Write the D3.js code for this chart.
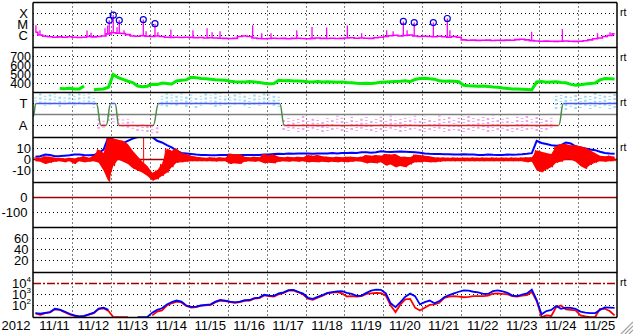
<!DOCTYPE html>
<html>
<head>
<meta charset="utf-8">
<script src="https://d3js.org/d3.v7.min.js"></script>
<style>
  body { margin: 0; background: #fff; }
</style>
</head>
<body>
<div id="chart"></div>
<script>
// all series are 3-hour bins starting 2012-11-11 00:00, 120 bins = 15 days
var dayLabels = ["11/11", "11/12", "11/13", "11/14", "11/15", "11/16", "11/17", "11/18",
                 "11/19", "11/20", "11/21", "11/22", "11/23", "11/24", "11/25"];

// GOES x-ray background flux (W/m2)
var xrayBase = [
  2.0e-6, 1.1e-6, 8.6e-7, 7.7e-7, 7.0e-7, 7.5e-7, 7.0e-7, 7.7e-7, 7.0e-7, 6.5e-7,
  7.0e-7, 8.0e-7, 7.5e-7, 8.0e-7, 9.0e-7, 1.4e-6, 1.8e-6, 1.6e-6, 1.5e-6, 1.2e-6,
  9.0e-7, 8.6e-7, 9.5e-7, 8.6e-7, 8.0e-7, 9.0e-7, 8.0e-7, 7.0e-7, 6.8e-7, 7.0e-7,
  6.5e-7, 7.0e-7, 6.8e-7, 6.3e-7, 6.5e-7, 6.0e-7, 6.3e-7, 6.0e-7, 5.7e-7, 5.5e-7,
  5.3e-7, 5.5e-7, 8.0e-7, 9.0e-7, 8.0e-7, 6.0e-7, 5.3e-7, 5.1e-7, 5.3e-7, 5.7e-7,
  5.3e-7, 5.5e-7, 5.1e-7, 5.5e-7, 5.7e-7, 5.3e-7, 5.1e-7, 5.5e-7, 6.0e-7, 5.5e-7,
  5.3e-7, 5.7e-7, 5.3e-7, 5.5e-7, 6.0e-7, 6.3e-7, 5.7e-7, 6.0e-7, 5.7e-7, 5.5e-7,
  6.3e-7, 7.0e-7, 8.0e-7, 9.5e-7, 1.05e-6, 9.0e-7, 1.0e-6, 1.1e-6, 9.0e-7, 8.0e-7,
  8.6e-7, 8.0e-7, 7.7e-7, 8.6e-7, 7.7e-7, 7.0e-7, 8.0e-7, 7.0e-7, 4.0e-7, 3.7e-7,
  3.8e-7, 3.6e-7, 3.7e-7, 3.8e-7, 3.5e-7, 3.7e-7, 3.6e-7, 3.8e-7, 3.7e-7, 4.2e-7,
  4.6e-7, 4.0e-7, 3.4e-7, 3.2e-7, 3.0e-7, 3.1e-7, 3.0e-7, 2.9e-7, 3.0e-7, 3.2e-7,
  3.0e-7, 2.9e-7, 3.0e-7, 3.3e-7, 4.0e-7, 5.0e-7, 6.0e-7, 8.0e-7, 1.0e-6, 1.4e-6
];

// flare peaks [hour, flux]
var flares = [
  [1.8, 8.5e-6], [4.3, 3.0e-6], [33.3, 2.9e-6], [35.8, 1.8e-6], [44.4, 4.6e-6],
  [46.0, 8.0e-6], [47.0, 2.4e-5], [49.5, 7.0e-5], [51.8, 5.6e-6], [53.2, 2.4e-5],
  [56.1, 3.0e-6], [68.0, 2.8e-5], [69.7, 2.4e-6], [75.2, 1.2e-5], [77.0, 2.0e-6],
  [85.0, 3.6e-6], [98.6, 3.0e-6], [107.3, 4.6e-6], [110.4, 2.0e-6], [115.3, 2.4e-6],
  [135.4, 8.5e-6], [141.0, 1.6e-6], [146.7, 1.6e-6], [162.6, 3.0e-6], [172.0, 6.0e-6],
  [181.0, 5.4e-6], [193.8, 8.0e-6], [202.6, 1.6e-6], [218.0, 3.0e-6], [222.0, 2.4e-6],
  [228.3, 1.9e-5], [230.6, 3.0e-6], [235.0, 1.5e-5], [246.8, 1.5e-5], [255.4, 3.5e-5],
  [257.0, 3.0e-6], [307.4, 2.2e-6], [326.3, 4.0e-6], [348.0, 1.6e-6], [355.7, 2.0e-6]
];

// solar wind speed (km/s)
var windSpeed = [
  null, null, null, null, null, 345, 342, 348, 340, 338,
  372, null, 330, 335, 340, 358, 500, 465, 445, 425,
  410, 372, 365, 370, 392, 388, 405, 400, 395, 428,
  435, 440, 470, 465, 455, 452, 448, 442, 440, 435,
  425, 420, 418, 416, 422, 418, 410, 402, 398, 400,
  435, 430, 432, 428, 428, 425, 420, 418, 422, 418,
  420, 418, 415, 418, 412, 408, 402, 400, 404, 400,
  405, 415, 418, 420, 422, 425, 430, 420, 445, 455,
  458, 452, 448, 430, 425, 428, 424, 420, 380, 375,
  372, 370, 372, 368, 360, 358, 350, 345, 340, 338,
  335, 332, 330, 418, 422, 415, 418, 420, 412, 408,
  390, 382, 385, 395, 400, 405, 440, 455, 452, 450
];

// IMF sector: [hour, polarity] (+1 toward, -1 away)
var sectorPoints = [
  [0, -0.2], [1.9, 1], [39, 1], [42, -1], [45, -1], [48, 1], [50.5, 1], [53, -1],
  [74, -1], [77.5, 1], [152, 1], [155, -1], [324, -1], [327, 1], [360, 1]
];

// IMF angle scatter, low / high per bin (sector units)
var phiLo = [
  0.9, 1.0, 0.8, 0.9, 1.0, 0.7, 0.9, 1.0, 0.8, 1.0,
  0.9, 1.1, 0.6, -1.3, -1.2, -0.6, -0.7, -0.9, -1.1, -1.2,
  -1.3, -1.5, -1.5, -1.6, -1.7, -1.7, 0.8, 0.7, 0.9, 0.8,
  1.0, 0.7, 0.9, 0.6, 0.8, 1.0, 0.9, 0.7, 0.8, 0.9,
  0.7, 0.9, 1.0, 0.8, 0.6, 0.9, 0.8, 1.0, 0.9, 0.8,
  0.7, -1.4, -1.5, -1.3, -1.6, -1.4, -1.5, -1.3, -1.4, -1.6,
  -1.5, -1.4, -1.3, -1.5, -1.6, -1.4, -1.5, -1.3, -1.4, -1.5,
  -1.6, -1.4, -1.5, -1.3, -1.4, -1.6, -1.5, -1.4, -1.3, -1.5,
  -1.6, -1.4, -1.5, -1.3, -1.6, -1.5, -1.4, -1.5, -1.6, -1.4,
  -1.5, -1.3, -1.4, -1.6, -1.5, -1.4, -1.3, -1.5, -1.6, -1.4,
  -1.5, -1.4, -1.3, -1.5, -1.6, -1.4, -1.2, 0.5, 0.6, 0.4,
  0.7, 0.5, 0.6, 0.8, 0.5, 0.7, 0.6, 0.8, 0.5, 0.6
];
var phiHi = [
  1.7, 1.9, 1.8, 2.0, 1.9, 1.8, 1.7, 1.9, 1.9, 2.0,
  1.8, 1.9, 1.7, -0.2, -0.5, 0.1, 0.0, -0.1, -0.3, -0.4,
  -0.6, -0.8, -0.9, -1.0, -1.1, -1.0, 1.8, 1.9, 2.0, 1.8,
  1.9, 1.8, 2.0, 1.7, 1.9, 2.0, 1.8, 1.9, 2.0, 1.7,
  1.8, 1.9, 2.0, 1.8, 1.7, 1.9, 1.8, 2.0, 1.9, 1.8,
  1.7, -0.4, -0.2, -0.5, -0.3, -0.1, -0.4, -0.2, -0.3, -0.5,
  -0.2, -0.4, -0.1, -0.3, -0.5, -0.2, -0.4, -0.3, -0.1, -0.4,
  -0.3, -0.2, -0.5, -0.1, -0.3, -0.4, -0.2, -0.3, -0.1, -0.4,
  -0.2, -0.3, -0.4, -0.1, -0.3, -0.2, -0.4, -0.3, -0.2, -0.1,
  -0.3, -0.4, -0.2, -0.3, -0.1, -0.4, -0.2, -0.3, -0.5, -0.2,
  -0.3, -0.1, -0.4, -0.2, -0.3, -0.5, -0.3, 1.7, 1.8, 1.9,
  1.8, 1.9, 1.7, 1.9, 1.8, 2.0, 1.9, 1.8, 1.9, 2.0
];

// IMF magnitude Bt (nT)
var bt = [
  2.5, 3.0, 4.5, 4.0, 3.0, 3.2, 3.5, 3.8, 4.5, 4.5,
  4.0, 3.8, 4.0, 6.0, 9.0, 20.5, 18, 11, 15, 17,
  19, 20.5, 20.5, 20.5, 20.5, 17, 15.5, 13, 11, 8,
  6, 5.5, 5, 4.5, 4.2, 4, 3.8, 3.8, 4, 4.2,
  4.2, 3.8, 4, 4, 4.2, 4, 4, 4.5, 4.5, 5,
  5.2, 5, 5.5, 5.3, 5.5, 5.5, 5.5, 5.2, 5.5, 5.5,
  5.5, 5.8, 5.5, 6, 6, 6.2, 6, 6.5, 6.5, 6.2,
  6.5, 7.5, 7, 6.8, 7, 7.2, 7, 6.8, 6.5, 6.2,
  5.5, 5.2, 5, 5, 4.8, 4.8, 4.5, 4.5, 4.8, 4.5,
  4.5, 4.2, 4.2, 4.5, 4.3, 4.2, 4.2, 4.5, 4.3, 4.5,
  4.8, 5.2, 5.8, 17, 15, 14, 13, 12.5, 13, 15.5,
  14.5, 12, 11, 10, 9, 8.5, 7, 6, 5.5, 5.2
];

// IMF Bz min / max per bin (nT)
var bzLo = [
  -1.5, -2, -4, -3, -2, -1.5, -2.5, -1.5, -4, -1.5,
  -2.5, -2, -1.5, -3, -10, -20, -6, 0, -2, -4,
  -8, -10, -12, -15, -19, -18, -15, -12, -7, -3,
  -2.5, -2, -1.5, -1.5, -1.5, -1.6, -1.5, -1.8, -1.5, -1.6,
  -4, -3.5, -4, -2, -1.6, -2, -1.6, -3.5, -3, -3.5,
  -2, -1.6, -2, -1.5, -2, -1.6, -2.5, -2.2, -2.5, -2,
  -2.5, -2, -2.5, -2, -2.5, -2, -1.6, -2, -3.5, -3,
  -3.5, -2.5, -5.5, -4.5, -7, -6, -7, -4.5, -2.5, -2.5,
  -2, -2.5, -2.5, -2, -1.6, -1.5, -1.6, -1.5, -1.6, -1.5,
  -1.6, -1.5, -1.6, -1.5, -1.6, -1.5, -1.6, -1.5, -1.6, -1.5,
  -1.6, -2.5, -2, -10, -11.5, -9, -7, -3, -2, 0,
  0, -2, -6, -8.5, -5, -3, -1.5, -2, -1.5, -1.5
];
var bzHi = [
  2, 1.5, 3, 2.5, 1.5, 1.5, 1, 1.5, 0.8, 2,
  3, 1.5, 3.5, 9, 6, 20, 19, 18, 17, 14,
  8, 3, -2, -6, -12, -10, -4, 10, 8, 10,
  6, 5, 3.5, 2.5, 2, 1.5, 2, 1.6, 2, 1.5,
  5.5, 4.5, 5, 2.5, 2, 2.5, 2, 5, 4, 4.5,
  2.5, 2, 2.5, 2, 2.5, 2, 4, 3.5, 4, 3,
  2.5, 2, 2.5, 2, 2.5, 2.5, 2, 2.5, 4, 3.5,
  4, 3.5, 5, 4.5, 5, 2.5, 2.5, 2, 4.5, 4,
  3.5, 3, 2, 1.8, 1.8, 1.6, 1.8, 1.6, 1.8, 1.6,
  1.8, 1.6, 1.8, 1.6, 1.8, 1.6, 1.8, 1.6, 1.8, 1.6,
  1.8, 2, 2, 8.5, 7, 6, 5, 12, 14, 14,
  13, 13, 12, 11, 8.5, 6, 3.5, 3, 3.5, 2.5
];
// single sharp Bz excursion [hour, low, high]
var bzSpikes = [[68.2, -8, 20]];

// electron flux, log10, two channels
var eBlue = [
  1.3, 1.25, 1.33, 1.4, 1.7, 1.62, 1.45, 1.25, 1.1, 1.0,
  1.05, 1.2, 1.35, 1.72, 1.8, 1.6, null, null, null, null,
  null, 0.95, 0.95, 0.97, 1.35, 1.6, 1.75, 2.1, 2.3, 2.45,
  2.35, 2.0, 1.88, 1.9, 2.0, 2.05, 2.1, 2.35, 2.5, 2.45,
  2.35, 2.28, 2.35, 2.48, 2.5, 2.68, 2.72, 2.98, 2.9, 2.88,
  3.1, 3.2, 3.4, 3.42, 3.25, 3.08, 2.7, 2.6, 2.78, 2.95,
  3.15, 3.22, 3.28, 3.3, 3.15, 3.05, 2.88, 2.9, 3.15, 3.35,
  3.45, 3.42, 3.1, 2.2, 1.85, 2.3, 2.8, 3.08, 2.85, 2.1,
  2.3, 2.45, 2.2, 2.4, 2.75, 2.95, 3.1, 3.25, 3.38, 3.35,
  3.25, 3.2, 3.05, 3.05, 3.3, 3.38, 3.28, 3.15, 2.9, 2.85,
  3.0, 3.1, 3.45, 2.5, 1.2, 1.5, 1.6, 1.95, 1.7, 1.8,
  1.78, 1.7, 1.45, 1.35, 1.3, 1.3, 1.6, 1.82, 1.8, 1.78
];
var eRed = [
  1.28, 1.15, 1.3, 1.38, 1.65, 1.6, 1.4, 1.2, 1.05, 0.98,
  1.02, 1.18, 1.3, 1.68, 1.75, 1.5, 0.95, 0.95, 0.95, 0.95,
  null, null, null, null, 1.1, 1.45, 1.55, 2.0, 2.2, 2.35,
  2.28, 1.95, 1.82, 1.85, 1.98, 2.02, 2.05, 2.3, 2.45, 2.4,
  2.3, 2.25, 2.3, 2.42, 2.45, 2.62, 2.68, 2.92, 2.85, 2.82,
  3.02, 3.15, 3.35, 3.38, 3.2, 3.0, 2.62, 2.52, 2.72, 2.9,
  3.1, 3.18, 3.22, 3.1, 2.82, 2.85, 2.82, 2.85, 3.05, 3.1,
  3.15, 3.12, 2.9, 2.0, 1.4, 2.1, 2.55, 2.6, 1.8, 1.55,
  1.8, 2.05, 2.1, 2.25, 2.7, 2.8, 2.85, 2.8, 2.75, 2.78,
  2.85, 2.85, 2.85, 2.9, 3.08, 3.1, 3.05, 3.02, 2.85, 2.8,
  2.9, 2.95, 3.25, 2.4, 0.95, 1.1, 1.05, 1.85, 2.0, 1.65,
  1.6, 1.55, 1.1, 1.0, 0.95, 0.95, 1.7, 1.7, 1.5, 1.1
];

// tick labels
var xrayTicks = [1e-4, 1e-5, 1e-6], xrayLabels = ["X", "M", "C"];
var speedTicks = [400, 500, 600, 700];
var sectorTicks = [1, -1], sectorLabels = ["T", "A"];
var bTicks = [10, 0, -10];
var dstTicks = [0, -100];
var kTicks = [20, 40, 60];
var eTicks = [1e2, 1e3, 1e4], eExponents = ["2", "3", "4"];

var width = 633, height = 334;
var left = 33, right = 617, panelH = 45;
var font = "'Liberation Sans', Arial, sans-serif";

function panelTop(i) { return 2.5 + panelH * i; }
function binHour(i) { return i * 3 + 1.5; }

var svg = d3.select("#chart")
  .append("svg")
    .attr("width", width)
    .attr("height", height)
    .style("display", "block");

// time axis in hours from 11/11 00:00
var x = d3.scaleLinear().domain([0, 360]).range([left, right]);

// y scales, one per panel
var yXray = d3.scaleLog().domain([Math.pow(10, -3 - 45 / 11), 1e-3]).range([panelTop(1), panelTop(0)]);
var ySpeed = d3.scaleLinear().domain([300, 800]).range([panelTop(2), panelTop(1)]);
var ySector = d3.scaleLinear().domain([2 - 45 / 11, 2]).range([panelTop(3), panelTop(2)]);
var yB = d3.scaleLinear().domain([20 - 45 / 1.1, 20]).range([panelTop(4), panelTop(3)]);
var yDst = d3.scaleLinear().domain([-200, 100]).range([panelTop(5), panelTop(4)]);
var yK = d3.scaleLinear().domain([80 - 45 / 0.55, 80]).range([panelTop(6), panelTop(5)]);
var yE = d3.scaleLog().domain([Math.pow(10, 5 - 45 / 11), 1e5]).range([panelTop(7), panelTop(6)]);

// clip paths for each panel
var defs = svg.append("defs");
d3.range(7).forEach(function(i) {
  defs.append("clipPath").attr("id", "clip" + i)
    .append("rect")
      .attr("x", left).attr("y", panelTop(i))
      .attr("width", right - left).attr("height", panelH);
});
function layer(i) { return svg.append("g").attr("clip-path", "url(#clip" + i + ")"); }

// dotted grid
var grid = svg.append("g")
  .attr("stroke", "#000")
  .attr("stroke-width", 1)
  .attr("stroke-dasharray", "1,3");

function hGrid(scale, values) {
  values.forEach(function(v) {
    grid.append("line")
      .attr("x1", left).attr("x2", right)
      .attr("y1", scale(v)).attr("y2", scale(v));
  });
}
hGrid(yXray, xrayTicks);
hGrid(ySpeed, speedTicks);
hGrid(ySector, sectorTicks);
hGrid(yB, [10, -10]);
hGrid(yDst, [-100]);
hGrid(yK, kTicks);
hGrid(yE, [1e2, 1e3]);

dayLabels.slice(1).forEach(function(d, i) {
  var gx = Math.round(x(24 * (i + 1))) + 0.5;
  grid.append("line")
    .attr("x1", gx).attr("x2", gx)
    .attr("y1", panelTop(0)).attr("y2", panelTop(7));
});

// ---- panel 1: x-ray ----
var p1 = layer(0);
p1.append("path")
  .datum(xrayBase)
  .attr("fill", "none")
  .attr("stroke", "#ff00ff")
  .attr("stroke-width", 1.6)
  .attr("d", d3.line()
    .curve(d3.curveStep)
    .x(function(d, i) { return x(binHour(i)); })
    .y(function(d) { return yXray(d); }));

p1.selectAll(".flare")
  .data(flares)
  .enter()
  .append("line")
    .attr("stroke", "#ff00ff")
    .attr("stroke-width", 1.3)
    .attr("x1", function(d) { return x(d[0]); })
    .attr("x2", function(d) { return x(d[0]); })
    .attr("y1", function(d) { return yXray(xrayBase[Math.floor(d[0] / 3)]); })
    .attr("y2", function(d) { return yXray(d[1]); });

// circles on M-class flares
svg.selectAll(".mflare")
  .data(flares.filter(function(d) { return d[1] >= 1e-5; }))
  .enter()
  .append("circle")
    .attr("cx", function(d) { return x(d[0]); })
    .attr("cy", function(d) { return yXray(d[1]); })
    .attr("r", 3)
    .attr("fill", "none")
    .attr("stroke", "#0000e0")
    .attr("stroke-width", 1.2);

// ---- panel 2: solar wind speed ----
layer(1).append("path")
  .datum(windSpeed)
  .attr("fill", "none")
  .attr("stroke", "#00ee00")
  .attr("stroke-width", 3)
  .attr("d", d3.line()
    .defined(function(d) { return d != null; })
    .x(function(d, i) { return x(binHour(i)); })
    .y(function(d) { return ySpeed(d); }));

// ---- panel 3: IMF sector ----
var p3 = layer(2);
p3.selectAll(".phi")
  .data(phiLo)
  .enter()
  .append("line")
    .attr("x1", function(d, i) { return x(binHour(i)); })
    .attr("x2", function(d, i) { return x(binHour(i)); })
    .attr("y1", function(d) { return ySector(d); })
    .attr("y2", function(d, i) { return ySector(phiHi[i]); })
    .attr("stroke-width", 2.5)
    .attr("stroke-dasharray", function(d, i) { return i % 2 ? "2,2" : "1,2"; })
    .attr("stroke", function(d, i) {
      var m = (d + phiHi[i]) / 2;
      if (m > 0.25) return "#98daf4";
      if (m < -0.25) return "#f0a0ec";
      return "#c8c8c8";
    });

p3.append("line")
  .attr("x1", left).attr("x2", right)
  .attr("y1", ySector(0)).attr("y2", ySector(0))
  .attr("stroke", "#808080")
  .attr("stroke-width", 1.5);

var segs = d3.pairs(sectorPoints);
p3.selectAll(".sector")
  .data(segs)
  .enter()
  .append("path")
    .attr("fill", "none")
    .attr("stroke-width", 1.5)
    .attr("stroke", function(d) {
      if (d[0][1] === 1 && d[1][1] === 1) return "#4858f0";
      if (d[0][1] === -1 && d[1][1] === -1) return "#d02828";
      return "#4a8a4a";
    })
    .attr("d", d3.line()
      .curve(d3.curveBumpX)
      .x(function(d) { return x(d[0]); })
      .y(function(d) { return ySector(d[1]); }));

// ---- panel 4: IMF Bt / Bz ----
var p4 = layer(3);
p4.append("line")
  .attr("x1", left).attr("x2", right)
  .attr("y1", yB(0)).attr("y2", yB(0))
  .attr("stroke", "#a00000")
  .attr("stroke-width", 1.5);

p4.append("path")
  .datum(bt)
  .attr("fill", "none")
  .attr("stroke", "#0000ff")
  .attr("stroke-width", 2)
  .attr("d", d3.line()
    .x(function(d, i) { return x(binHour(i)); })
    .y(function(d) { return yB(d); }));

// Bz: min-max envelope of each bin
p4.append("path")
  .datum(bzLo)
  .attr("fill", "#ff0000")
  .attr("d", d3.area()
    .x(function(d, i) { return x(binHour(i)); })
    .y0(function(d) { return yB(d); })
    .y1(function(d, i) { return yB(bzHi[i]); }));

// plus a thin trace through each bin's max and min for the ragged edge
var bzTrace = [];
bzLo.forEach(function(lo, i) {
  bzTrace.push([i * 3 + 0.75, bzHi[i]]);
  bzTrace.push([i * 3 + 2.25, lo]);
});
p4.append("path")
  .datum(bzTrace)
  .attr("fill", "none")
  .attr("stroke", "#ff0000")
  .attr("stroke-width", 1)
  .attr("d", d3.line()
    .x(function(d) { return x(d[0]); })
    .y(function(d) { return yB(d[1]); }));

p4.selectAll(".bzspike")
  .data(bzSpikes)
  .enter()
  .append("line")
    .attr("x1", function(d) { return x(d[0]); })
    .attr("x2", function(d) { return x(d[0]); })
    .attr("y1", function(d) { return yB(d[1]); })
    .attr("y2", function(d) { return yB(d[2]); })
    .attr("stroke", "#ff0000")
    .attr("stroke-width", 1);

// ---- panel 5: Dst (no data) ----
layer(4).append("line")
  .attr("x1", left).attr("x2", right)
  .attr("y1", yDst(0)).attr("y2", yDst(0))
  .attr("stroke", "#a00000")
  .attr("stroke-width", 1.5);

// ---- panel 7: electron flux ----
var p7 = layer(6);
p7.append("line")
  .attr("x1", left).attr("x2", right)
  .attr("y1", yE(1e4)).attr("y2", yE(1e4))
  .attr("stroke", "#a00000")
  .attr("stroke-width", 1.5)
  .attr("stroke-dasharray", "8,2,2,2");

var eLine = d3.line()
  .defined(function(d) { return d != null; })
  .x(function(d, i) { return x(binHour(i)); })
  .y(function(d) { return yE(Math.pow(10, d)); });

p7.append("path").datum(eRed)
  .attr("fill", "none").attr("stroke", "#ff0000").attr("stroke-width", 1.8)
  .attr("d", eLine);
p7.append("path").datum(eBlue)
  .attr("fill", "none").attr("stroke", "#0000ff").attr("stroke-width", 1.8)
  .attr("d", eLine);

// panel frames
var frame = svg.append("g").attr("stroke", "#000").attr("stroke-width", 1.5);
d3.range(8).forEach(function(i) {
  frame.append("line")
    .attr("x1", left).attr("x2", right)
    .attr("y1", panelTop(i)).attr("y2", panelTop(i));
});
frame.append("line").attr("x1", left).attr("x2", left).attr("y1", panelTop(0)).attr("y2", panelTop(7));
frame.append("line").attr("x1", right).attr("x2", right).attr("y1", panelTop(0)).attr("y2", panelTop(7));

// y labels
function leftLabels(scale, values, labels, xr) {
  var g = svg.append("g")
    .attr("transform", "translate(" + xr + ",0)")
    .call(d3.axisLeft(scale)
      .tickValues(values)
      .tickSize(0)
      .tickPadding(0)
      .tickFormat(function(d, i) { return labels ? labels[i] : d; }));
  g.select(".domain").remove();
  g.attr("font-size", 13).attr("font-family", font);
  g.selectAll("text").attr("fill", "#000");
  return g;
}
leftLabels(yXray, xrayTicks, xrayLabels, 28);
leftLabels(ySpeed, speedTicks, null, 31).attr("font-size", 12.5);
leftLabels(ySector, sectorTicks, sectorLabels, 27.5);
leftLabels(yB, bTicks, null, 31);
leftLabels(yDst, dstTicks, null, 27.5);
leftLabels(yK, kTicks, null, 28.5);
var eAxis = leftLabels(yE, eTicks, ["10", "10", "10"], 31);
eAxis.selectAll(".tick text")
  .append("tspan")
    .attr("dy", "-6px")
    .attr("font-size", 8)
    .text(function(d, i) { return eExponents[i]; });

// "rt" marks on the right
[0, 1, 2, 3, 6].forEach(function(i) {
  svg.append("text")
    .attr("x", 620)
    .attr("y", panelTop(i) + 13.5)
    .attr("font-size", 10.5)
    .attr("font-family", font)
    .text("rt");
});

// date labels
var xAxis = svg.append("g")
  .attr("transform", "translate(1.5," + panelTop(7) + ")")
  .call(d3.axisBottom(x)
    .tickValues(dayLabels.map(function(d, i) { return 24 * i + 12; }))
    .tickSize(0)
    .tickPadding(3)
    .tickFormat(function(d, i) { return dayLabels[i]; }));
xAxis.select(".domain").remove();
xAxis.attr("font-size", 13).attr("font-family", font);
xAxis.selectAll("text").attr("fill", "#000");

svg.append("text")
  .attr("x", 16)
  .attr("y", 329.5)
  .attr("text-anchor", "middle")
  .attr("font-size", 13)
  .attr("font-family", font)
  .text("2012");

// resize grip
[4, 8, 12].forEach(function(k) {
  svg.append("line")
    .attr("x1", width - k).attr("y1", height)
    .attr("x2", width).attr("y2", height - k)
    .attr("stroke", "#a0a0a0")
    .attr("stroke-width", 1.2);
});
</script>
</body>
</html>
